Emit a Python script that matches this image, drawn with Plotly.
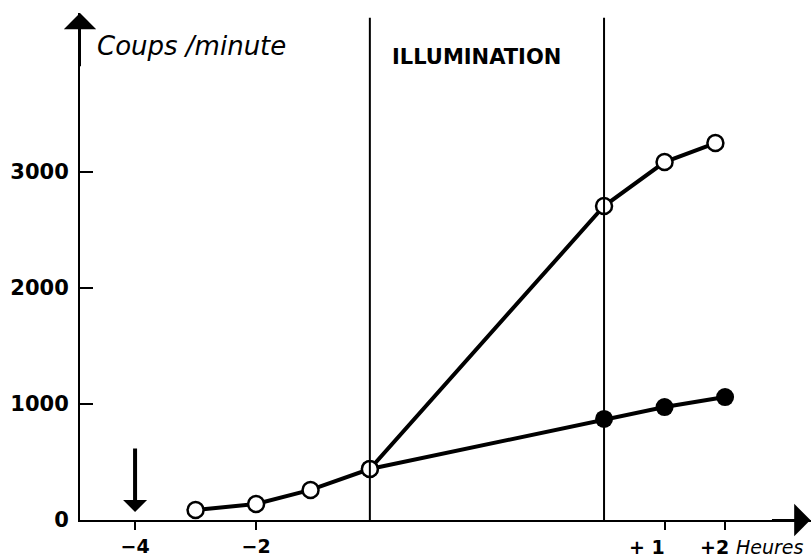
import plotly.graph_objects as go

# ---- data ----
# hours before the start of illumination
pre_hours = [-3, -2, -1.1, -0.12]
pre_counts = [86, 138, 259, 440]
# hours after the end of illumination
post_hours_open = [0, 1, 1.84]
post_counts_open = [2707, 3086, 3250]
post_hours_filled = [0, 1, 2]
post_counts_filled = [871, 974, 1060]

illum_start = -0.12          # hour (pre scale) where illumination starts
illum_end_pos = 3.75         # axis position where illumination ends (broken time scale)

x_ticks_pre = [-4, -2]
x_ticklabels_pre = ["\u22124", "\u22122"]
x_ticks_post = [1, 2]
x_ticklabels_post = ["+ 1", "+2"]
y_ticks = [0, 1000, 2000, 3000]

X_RANGE = [-4.91, 7.17]
Y_RANGE = [0, 4371]

def post_pos(hours):
    return [illum_end_pos + h for h in hours]

x_open = pre_hours + post_pos(post_hours_open)
y_open = pre_counts + post_counts_open
x_filled = [pre_hours[-1]] + post_pos(post_hours_filled)
y_filled = [pre_counts[-1]] + post_counts_filled

BOLD = "DejaVu Sans"

fig = go.Figure()
fig.add_trace(go.Scatter(
    x=x_filled, y=y_filled, mode="lines+markers",
    line=dict(color="black", width=4),
    marker=dict(size=18, color="black", line=dict(color="black", width=0)),
    showlegend=False, cliponaxis=False))
fig.add_trace(go.Scatter(
    x=x_open, y=y_open, mode="lines+markers",
    line=dict(color="black", width=4),
    marker=dict(size=16, color="white", line=dict(color="black", width=2.5)),
    showlegend=False, cliponaxis=False))

shapes = []
for xv in [illum_start, illum_end_pos]:
    shapes.append(dict(type="line", xref="x", yref="y", x0=xv, x1=xv, y0=0, y1=4330,
                       line=dict(color="black", width=2)))

tickpos = x_ticks_pre + post_pos(x_ticks_post)

annotations = [
    # y-axis arrow head
    dict(x=X_RANGE[0], y=4370, ax=X_RANGE[0], ay=3900, xref="x", yref="y", axref="x", ayref="y",
         text="", showarrow=True, arrowhead=1, arrowwidth=2, arrowsize=2.7, arrowcolor="black", standoff=0),
    # x-axis arrow head
    dict(x=X_RANGE[1] - 0.01, y=0, ax=6.5, ay=0, xref="x", yref="y", axref="x", ayref="y",
         text="", showarrow=True, arrowhead=1, arrowwidth=2, arrowsize=2.7, arrowcolor="black", standoff=0),
    # arrow marking the start time
    dict(x=-4, y=69, ax=-4, ay=629, xref="x", yref="y", axref="x", ayref="y",
         text="", showarrow=True, arrowhead=1, arrowwidth=4, arrowsize=1.0, arrowcolor="black", standoff=0),
    dict(x=X_RANGE[0], y=4090, xref="x", yref="y", xanchor="left", yanchor="middle", xshift=15,
         text="<i>Coups /minute</i>", showarrow=False,
         font=dict(family="DejaVu Sans", size=26, color="black")),
    dict(x=illum_start, y=3990, xref="x", yref="y", xanchor="left", yanchor="middle", xshift=20,
         text="<b>ILLUMINATION</b>", showarrow=False,
         font=dict(family=BOLD, size=21, color="black")),
    dict(x=post_pos(x_ticks_post)[0], y=0, xref="x", yref="y", xanchor="right", yanchor="top",
         yshift=-14, xshift=2, text=f"<b>{x_ticklabels_post[0]}</b>", showarrow=False,
         font=dict(family=BOLD, size=19, color="black")),
    dict(x=post_pos(x_ticks_post)[1], y=0, xref="x", yref="y", xanchor="left", yanchor="top",
         yshift=-14, xshift=-27, text=f"<b>{x_ticklabels_post[1]}</b>", showarrow=False,
         font=dict(family=BOLD, size=19, color="black")),
    dict(x=X_RANGE[1], y=0, xref="x", yref="y", xanchor="right", yanchor="top",
         yshift=-14, xshift=-5, text="<i>Heures</i>", showarrow=False,
         font=dict(family=BOLD, size=19, color="black")),
]

fig.update_layout(
    width=811, height=560,
    margin=dict(l=80, r=0, t=13, b=40, autoexpand=False),
    paper_bgcolor="white", plot_bgcolor="white",
    shapes=shapes, annotations=annotations,
    xaxis=dict(range=X_RANGE, showgrid=False, zeroline=False, showline=True,
               linecolor="black", linewidth=2, automargin=False,
               tickmode="array", tickvals=tickpos,
               ticktext=[f"<b>{t}</b>" for t in x_ticklabels_pre] + ["", ""],
               ticks="outside", ticklen=8, tickwidth=2, tickcolor="black",
               tickfont=dict(family=BOLD, size=19, color="black"),
               ticklabelstandoff=0),
    yaxis=dict(range=Y_RANGE, showgrid=False, zeroline=False, showline=True,
               linecolor="black", linewidth=2, automargin=False,
               tickmode="array", tickvals=y_ticks,
               ticktext=[f"<b>{v}</b>" for v in y_ticks],
               ticks="inside", ticklen=13, tickwidth=2, tickcolor="black",
               tickfont=dict(family=BOLD, size=21, color="black"),
               ticklabelstandoff=5),
)

fig.write_html("out.html", config={"displayModeBar": False},
               post_script="document.body.style.margin='0';document.body.style.padding='0';")
